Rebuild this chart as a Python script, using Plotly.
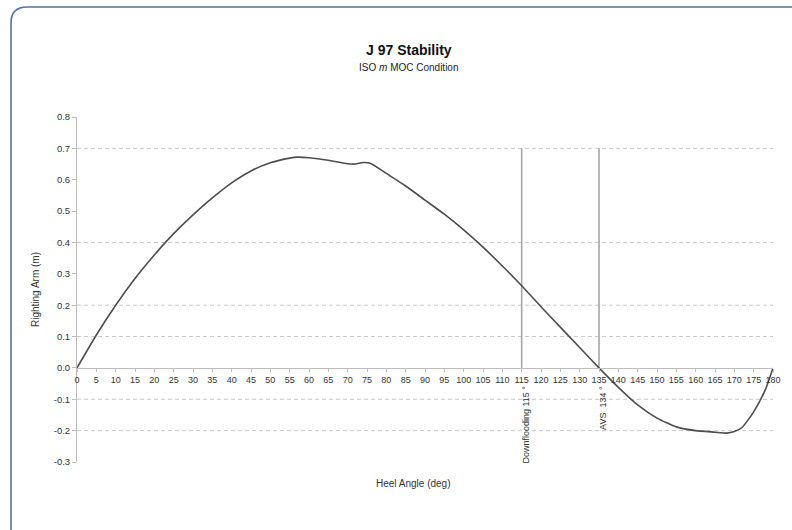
import plotly.graph_objects as go

# ---- data ----
heel_deg = [0, 5, 10, 15, 20, 25, 30, 35, 40, 45, 50, 55, 57, 60, 65, 70, 72, 74, 76,
            80, 85, 90, 95, 100, 105, 110, 115, 120, 125, 130, 135, 140, 145, 150,
            155, 160, 165, 168, 170, 172, 175, 178, 180]
righting_arm = [0.0, 0.105, 0.2, 0.285, 0.36, 0.428, 0.488, 0.542, 0.59, 0.628, 0.654,
                0.669, 0.672, 0.67, 0.662, 0.651, 0.65, 0.655, 0.652,
                0.62, 0.58, 0.535, 0.49, 0.44, 0.385, 0.325, 0.262, 0.195, 0.13, 0.065,
                0.0, -0.062, -0.118, -0.16, -0.188, -0.2, -0.205, -0.208, -0.203, -0.19,
                -0.14, -0.07, 0.0]

x_ticks = list(range(0, 181, 5))
y_ticks = [-0.3, -0.2, -0.1, 0.0, 0.1, 0.2, 0.3, 0.4, 0.5, 0.6, 0.7, 0.8]
grid_values = [0.7, 0.4, 0.2, 0.1, -0.1, -0.2]

marker_angles = [115, 135]
marker_top = 0.7
marker_labels = ["Downflooding 115 °", "AVS  134 °"]

title_text = "J 97 Stability"
subtitle_text = "ISO <i>m</i> MOC Condition"
x_title = "Heel Angle (deg)"
y_title = "Righting Arm (m)"

FONT = "Arial, 'Liberation Sans', sans-serif"

# ---- layout geometry (pixels) ----
W, H = 792, 530
ML, MR, MT, MB = 77, 19, 117, 68
PW, PH = W - ML - MR, H - MT - MB


def px_to_paper(px, py):
    return (px - ML) / PW, (H - MB - py) / PH


fig = go.Figure()
fig.add_trace(go.Scatter(x=heel_deg, y=righting_arm, mode="lines",
                         line=dict(color="#4d4d4d", width=1.6, shape="spline", smoothing=0.5),
                         hoverinfo="x+y", showlegend=False))

shapes = []
for g in grid_values:
    shapes.append(dict(type="line", xref="x", yref="y", x0=0, x1=180, y0=g, y1=g,
                       line=dict(color="#c8c8c8", width=1, dash="4px,3px"), layer="below"))
for a in marker_angles:
    shapes.append(dict(type="line", xref="x", yref="y", x0=a, x1=a, y0=0, y1=marker_top,
                       line=dict(color="#a6a6a6", width=1.6), layer="below"))

# card border with rounded top-left corner
lx, ty = px_to_paper(11, 7)
rx, by = px_to_paper(805, 540)
crx = 16 / PW
cry = 16 / PH
path = (f"M {lx},{by} L {lx},{ty - cry} Q {lx},{ty} {lx + crx},{ty} L {rx},{ty}")
shapes.append(dict(type="path", xref="paper", yref="paper", path=path,
                   line=dict(color="#55729a", width=1.6)))

annotations = []
tx, tyy = px_to_paper(409, 50)
annotations.append(dict(text=f"<b>{title_text}</b>", xref="paper", yref="paper",
                        x=tx, y=tyy, showarrow=False, xanchor="center", yanchor="middle",
                        font=dict(family=FONT, size=14, color="#111")))
sx, sy = px_to_paper(409, 67)
annotations.append(dict(text=subtitle_text, xref="paper", yref="paper",
                        x=sx, y=sy, showarrow=False, xanchor="center", yanchor="middle",
                        font=dict(family=FONT, size=10, color="#222")))
ax_, ay_ = px_to_paper(413, 483)
annotations.append(dict(text=x_title, xref="paper", yref="paper", x=ax_, y=ay_,
                        showarrow=False, xanchor="center", yanchor="middle",
                        font=dict(family=FONT, size=10, color="#333")))
for a, lab in zip(marker_angles, marker_labels):
    annotations.append(dict(text=lab, xref="x", yref="y", x=a, y=0, showarrow=False,
                            textangle=-90, xanchor="center", yanchor="top",
                            xshift=4, yshift=-16,
                            font=dict(family=FONT, size=9, color="#333")))

fig.update_layout(
    width=W, height=H,
    margin=dict(l=ML, r=MR, t=MT, b=MB, pad=0),
    paper_bgcolor="white", plot_bgcolor="white",
    shapes=shapes, annotations=annotations,
    font=dict(family=FONT, color="#333"),
    xaxis=dict(range=[0, 180], tickvals=x_ticks, ticktext=[str(v) for v in x_ticks],
               anchor="free", position=0.3 / 1.1, showgrid=False, zeroline=False,
               showline=True, linecolor="#bdbdbd", linewidth=1,
               ticks="outside", ticklen=3, tickcolor="#bdbdbd",
               tickfont=dict(family=FONT, size=9, color="#333")),
    yaxis=dict(range=[-0.3, 0.8], tickvals=y_ticks, ticktext=[f"{v:.1f}" for v in y_ticks],
               showgrid=False, zeroline=False, showline=True, linecolor="#bdbdbd",
               linewidth=1, ticks="outside", ticklen=4, tickcolor="#bdbdbd",
               tickfont=dict(family=FONT, size=9.5, color="#333"),
               title=dict(text=y_title, standoff=12,
                          font=dict(family=FONT, size=10, color="#333"))),
)

fig.write_html("out.html", config={"displayModeBar": False},
               post_script="document.body.style.margin='0px';document.body.style.overflow='hidden';")
